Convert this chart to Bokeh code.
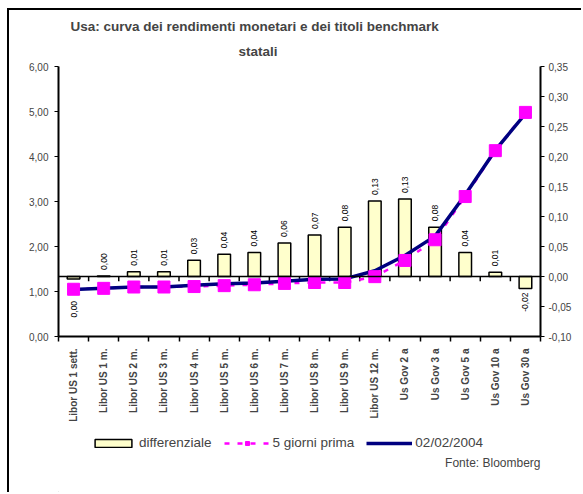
import math
from bokeh.plotting import figure
from bokeh.layouts import column
from bokeh.models import (Range1d, LinearAxis, FixedTicker, Legend, Title, Label,
                          LegendItem, ColumnDataSource, Span)
from bokeh.core.properties import value
from bokeh.embed import file_html
from bokeh.resources import INLINE

categories = ["Libor US 1 sett.", "Libor US 1 m.", "Libor US 2 m.", "Libor US 3 m.",
              "Libor US 4 m.", "Libor US 5 m.", "Libor US 6 m.", "Libor US 7 m.",
              "Libor US 8 m.", "Libor US 9 m.", "Libor US 12 m.", "Us Gov 2 a",
              "Us Gov 3 a", "Us Gov 5 a", "Us Gov 10 a", "Us Gov 30 a"]
differenziale = [-0.004, 0.001, 0.008, 0.008, 0.027, 0.037, 0.040, 0.056,
                 0.069, 0.082, 0.126, 0.129, 0.082, 0.040, 0.007, -0.020]
diff_labels = ["0,00", "0,00", "0,01", "0,01", "0,03", "0,04", "0,04", "0,06",
               "0,07", "0,08", "0,13", "0,13", "0,08", "0,04", "0,01", "-0,02"]
giorni_prima = [1.05, 1.07, 1.10, 1.10, 1.11, 1.13, 1.15, 1.18,
                1.20, 1.20, 1.33, 1.69, 2.15, 3.11, 4.13, 4.98]
data_0202 = [1.046, 1.07, 1.10, 1.10, 1.14, 1.17, 1.19, 1.23,
             1.27, 1.28, 1.46, 1.80, 2.23, 3.15, 4.14, 4.95]
left_ticks = [0, 1, 2, 3, 4, 5, 6]
right_ticks = [-0.10, -0.05, 0.0, 0.05, 0.10, 0.15, 0.20, 0.25, 0.30, 0.35]
series_names = ["differenziale", "5 giorni prima", "02/02/2004"]

FONT = "Liberation Sans"
BAR_FILL = "#FFFFCC"
MAGENTA = "#FF00FF"
NAVY = "#000080"
n = len(categories)
xs = [i + 0.5 for i in range(n)]

def fmt(v):
    return ("%.2f" % v).replace(".", ",")

p = figure(width=574, height=420, output_backend="svg", toolbar_location=None,
           x_range=Range1d(0, n), y_range=Range1d(0, 6),
           min_border_left=49, min_border_right=43, min_border_top=56,
           min_border_bottom=94, outline_line_color=None,
           background_fill_color="white", border_fill_color="white")
p.styles = {"border-left": "2px solid black", "border-top": "2px solid black",
            "margin-left": "7px", "margin-top": "8px"}
p.xgrid.visible = False
p.ygrid.visible = False
p.extra_y_ranges = {"diff": Range1d(-0.10, 0.35)}

# title (two lines, stacked outward from the frame)
p.add_layout(Title(text="statali", align="left", offset=180, text_font=FONT,
                   text_font_style="bold", text_font_size="13.5px", standoff=16), "above")
p.add_layout(Title(text="Usa: curva dei rendimenti monetari e dei titoli benchmark",
                   align="left", offset=12, text_font=FONT, text_font_style="bold",
                   text_font_size="13.5px", standoff=0), "above")

# axes
ly = p.yaxis[0]
ly.ticker = FixedTicker(ticks=left_ticks)
ly.major_label_overrides = {t: fmt(t) for t in left_ticks}
ly.axis_line_width = 2
ly.major_tick_out = 4
ly.major_tick_in = 0
ly.minor_tick_line_color = None
ly.major_label_text_font = FONT
ly.major_label_text_font_size = "10px"
ly.major_label_standoff = 6

rax = LinearAxis(y_range_name="diff", ticker=FixedTicker(ticks=right_ticks))
rax.major_label_overrides = {t: fmt(t) for t in right_ticks}
rax.axis_line_width = 2
rax.major_tick_out = 4
rax.major_tick_in = 0
rax.minor_tick_line_color = None
rax.major_label_text_font = FONT
rax.major_label_text_font_size = "10px"
rax.major_label_standoff = 4
p.add_layout(rax, "right")

xax = p.xaxis[0]
xax.ticker = FixedTicker(ticks=xs, minor_ticks=list(range(n + 1)))
xax.major_label_overrides = {x: c for x, c in zip(xs, categories)}
xax.major_label_orientation = math.pi / 2
xax.major_tick_line_color = None
xax.minor_tick_out = 5
xax.minor_tick_in = 0
xax.minor_tick_line_width = 1.5
xax.axis_line_width = 2
xax.major_label_text_font = FONT
xax.major_label_text_font_style = "bold"
xax.major_label_text_font_size = "10px"
xax.major_label_standoff = 6

# zero line of the secondary axis with category ticks
p.add_layout(Span(location=0, dimension="width", y_range_name="diff",
                  line_color="black", line_width=1.5))
bounds = list(range(1, n))
p.segment(x0=bounds, x1=bounds, y0=[0] * len(bounds), y1=[-0.008] * len(bounds),
          y_range_name="diff", line_color="black", line_width=1.5)

src = ColumnDataSource(dict(x=xs, d=differenziale, g=giorni_prima, f=data_0202))
p.vbar(x="x", top="d", bottom=0, width=0.42, source=src, y_range_name="diff",
       fill_color=BAR_FILL, line_color="black", line_width=1.5)
p.line(x="x", y="g", source=src, line_color=MAGENTA, line_width=2.5, line_dash="5 8")
p.line(x="x", y="f", source=src, line_color=NAVY, line_width=3.5)
p.scatter(x="x", y="g", source=src, marker="square", size=12,
          fill_color=MAGENTA, line_color=MAGENTA)

# data labels of the bars
pos_i = [i for i, d in enumerate(differenziale) if d >= 0]
neg_i = [i for i, d in enumerate(differenziale) if d < 0]
pos = ColumnDataSource(dict(x=[xs[i] for i in pos_i], y=[differenziale[i] for i in pos_i],
                            t=[diff_labels[i] for i in pos_i]))
neg = ColumnDataSource(dict(x=[xs[i] for i in neg_i], y=[differenziale[i] for i in neg_i],
                            t=[diff_labels[i] for i in neg_i],
                            o=[22 if abs(differenziale[i]) < 0.01 else 4 for i in neg_i]))
p.text(x="x", y="y", text="t", source=pos, y_range_name="diff", angle=math.pi / 2,
       text_align="left", text_baseline="middle", y_offset=-6,
       text_font=value(FONT), text_font_size="8.5px", text_color="black")
p.text(x="x", y="y", text="t", source=neg, y_range_name="diff", angle=math.pi / 2,
       text_align="right", text_baseline="middle", y_offset="o",
       text_font=value(FONT), text_font_size="8.5px", text_color="black")

# footer: legend and source note (its frame is aligned with the chart frame,
# so its x range is expressed in page pixels)
f = figure(width=574, height=64, output_backend="svg", toolbar_location=None,
           x_range=Range1d(58, 540), y_range=Range1d(0, 64),
           min_border=0, outline_line_color=None, x_axis_type=None, y_axis_type=None,
           background_fill_color="white", border_fill_color="white")
f.styles = {"border-left": "2px solid black", "margin-left": "7px"}
f.xgrid.visible = False
f.ygrid.visible = False
off = [-1000]  # legend proxies, outside the visible range
lb = f.vbar(x=off, top=off, width=1, fill_color=BAR_FILL, line_color="black",
            line_width=1.5)
lm = f.line(x=off, y=off, line_color=MAGENTA, line_width=2.5, line_dash="5 8")
ls = f.scatter(x=off, y=off, marker="square", size=12, fill_color=MAGENTA,
               line_color=MAGENTA)
ln = f.line(x=off, y=off, line_color=NAVY, line_width=3.5)
legend = Legend(items=[LegendItem(label=series_names[0], renderers=[lb]),
                       LegendItem(label=series_names[1], renderers=[lm, ls]),
                       LegendItem(label=series_names[2], renderers=[ln])],
                orientation="horizontal", location=(32, 42),
                glyph_width=46, glyph_height=10, label_standoff=3, spacing=12,
                padding=0, margin=0, border_line_color=None,
                background_fill_alpha=0, label_text_font=FONT,
                label_text_font_size="13.5px", label_height=14)
f.add_layout(legend, "center")
f.add_layout(Label(x=540, y=30, text="Fonte: Bloomberg", text_align="right",
                   text_baseline="middle", text_font=FONT, text_font_size="12px"))

layout = column(p, f, spacing=0)
open("out.html", "w").write(file_html(layout, INLINE))
